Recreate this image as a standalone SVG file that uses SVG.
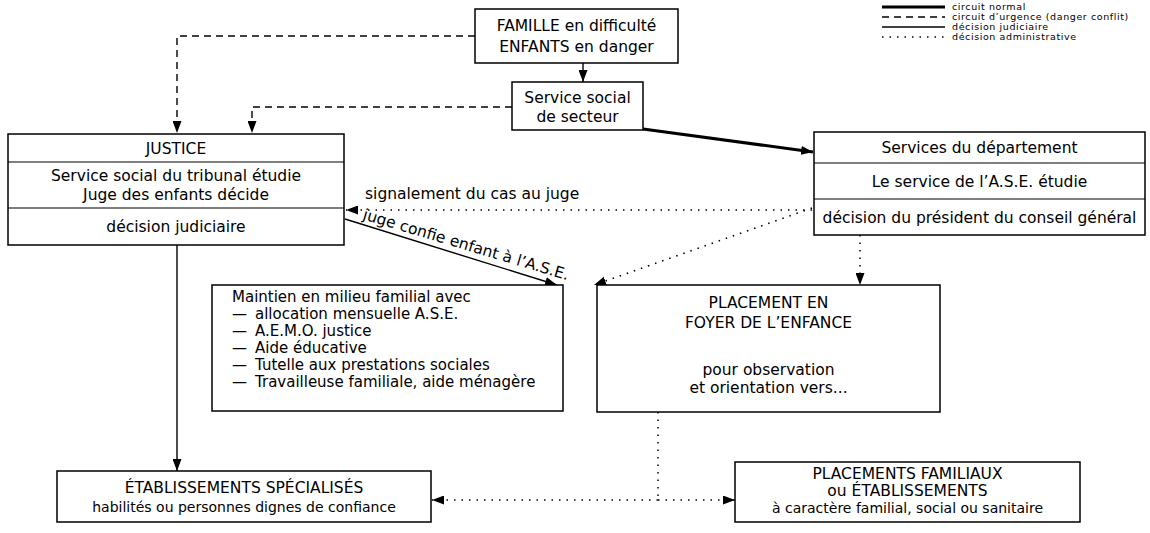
<svg xmlns="http://www.w3.org/2000/svg" width="1150" height="533" viewBox="0 0 1150 533">
<style>
  .box { fill: #fff; stroke: #000; stroke-width: 1.5; }
  .div { stroke: #000; stroke-width: 1.2; }
  text { font-family: "DejaVu Sans", "Liberation Sans", sans-serif; fill: #000; }
  .t { font-size: 15.5px; text-anchor: middle; }
  .s { font-size: 14px; text-anchor: middle; }
  .l { font-size: 15px; }
  .lab { font-size: 15.5px; }
  .leg { font-size: 9.5px; letter-spacing: 0.6px; }
  .normal { stroke: #000; stroke-width: 3; fill: none; }
  .urg { stroke: #000; stroke-width: 1.4; fill: none; stroke-dasharray: 7 5; }
  .jud { stroke: #000; stroke-width: 1.4; fill: none; }
  .adm { stroke: #000; stroke-width: 1.5; fill: none; stroke-dasharray: 1.5 6; }
</style>
<defs>
  <marker id="ah" viewBox="0 0 12 9" refX="12" refY="4.5" markerWidth="12" markerHeight="9" markerUnits="userSpaceOnUse" orient="auto">
    <path d="M0,0 L12,4.5 L0,9 z" fill="#000"/>
  </marker>
</defs>

<g id="legend">
  <line x1="882" y1="7" x2="945" y2="7" class="normal"/>
  <line x1="882" y1="17" x2="945" y2="17" class="urg"/>
  <line x1="882" y1="27" x2="945" y2="27" class="jud"/>
  <line x1="882" y1="37" x2="945" y2="37" class="adm"/>
  <text class="leg" x="952" y="10">circuit normal</text>
  <text class="leg" x="952" y="20">circuit d’urgence (danger conflit)</text>
  <text class="leg" x="952" y="30">décision judiciaire</text>
  <text class="leg" x="952" y="40">décision administrative</text>
</g>

<g id="connectors">
  <path class="urg" d="M475,36 H177 V133" marker-end="url(#ah)"/>
  <path class="urg" d="M512,107 H252 V133" marker-end="url(#ah)"/>
  <path class="jud" d="M583,63 V82" marker-end="url(#ah)"/>
  <path class="normal" d="M643,129 L813,152" marker-end="url(#ah)"/>
  <path class="adm" d="M812,210 H346" marker-end="url(#ah)"/>
  <path class="jud" d="M345,219 L557,285" marker-end="url(#ah)"/>
  <path class="adm" d="M812,208 L594,285" marker-end="url(#ah)"/>
  <path class="adm" d="M860,235 V285" marker-end="url(#ah)"/>
  <path class="jud" d="M177,245 V471" marker-end="url(#ah)"/>
  <path class="adm" d="M658,412 V500"/>
  <path class="adm" d="M658,500 H432" marker-end="url(#ah)"/>
  <path class="adm" d="M658,500 H735" marker-end="url(#ah)"/>
  <text class="lab" x="365" y="199">signalement du cas au juge</text>
  <text class="lab" x="0" y="0" transform="translate(362,219) rotate(16.6)">juge confie enfant à l’A.S.E.</text>
</g>

<g id="famille">
  <rect class="box" x="475" y="9" width="203" height="54"/>
  <text class="t" x="576.5" y="31">FAMILLE en difficulté</text>
  <text class="t" x="576.5" y="52">ENFANTS en danger</text>
</g>

<g id="service-social">
  <rect class="box" x="512" y="82" width="131" height="48"/>
  <text class="t" x="577.5" y="103">Service social</text>
  <text class="t" x="577.5" y="122">de secteur</text>
</g>

<g id="justice">
  <rect class="box" x="8" y="134" width="336" height="111"/>
  <line class="div" x1="8" y1="162" x2="344" y2="162"/>
  <line class="div" x1="8" y1="208" x2="344" y2="208"/>
  <text class="t" x="176" y="154">JUSTICE</text>
  <text class="t" x="176" y="181">Service social du tribunal étudie</text>
  <text class="t" x="176" y="200">Juge des enfants décide</text>
  <text class="t" x="176" y="232">décision judiciaire</text>
</g>

<g id="services-departement">
  <rect class="box" x="814" y="132" width="331" height="103"/>
  <line class="div" x1="814" y1="163" x2="1145" y2="163"/>
  <line class="div" x1="814" y1="199" x2="1145" y2="199"/>
  <text class="t" x="979.5" y="153">Services du département</text>
  <text class="t" x="979.5" y="187">Le service de l’A.S.E. étudie</text>
  <text class="t" x="979.5" y="223">décision du président du conseil général</text>
</g>

<g id="maintien">
  <rect class="box" x="212" y="285" width="351" height="126"/>
  <text class="l" x="232" y="302">Maintien en milieu familial avec</text>
  <text class="l" x="232" y="319">—</text><text class="l" x="255" y="319">allocation mensuelle A.S.E.</text>
  <text class="l" x="232" y="336">—</text><text class="l" x="255" y="336">A.E.M.O. justice</text>
  <text class="l" x="232" y="353">—</text><text class="l" x="255" y="353">Aide éducative</text>
  <text class="l" x="232" y="370">—</text><text class="l" x="255" y="370">Tutelle aux prestations sociales</text>
  <text class="l" x="232" y="387">—</text><text class="l" x="255" y="387">Travailleuse familiale, aide ménagère</text>
</g>

<g id="placement-foyer">
  <rect class="box" x="597" y="285" width="343" height="127"/>
  <text class="t" x="768.5" y="308">PLACEMENT EN</text>
  <text class="t" x="768.5" y="328">FOYER DE L’ENFANCE</text>
  <text class="t" x="768.5" y="375">pour observation</text>
  <text class="t" x="768.5" y="393">et orientation vers...</text>
</g>

<g id="etablissements">
  <rect class="box" x="57" y="471" width="374" height="51"/>
  <text class="t" x="244" y="493">ÉTABLISSEMENTS SPÉCIALISÉS</text>
  <text class="s" x="244" y="512">habilités ou personnes dignes de confiance</text>
</g>

<g id="placements-familiaux">
  <rect class="box" x="735" y="462" width="345" height="60"/>
  <text class="t" x="907.5" y="479">PLACEMENTS FAMILIAUX</text>
  <text class="t" x="907.5" y="496">ou ÉTABLISSEMENTS</text>
  <text class="s" x="907.5" y="513">à caractère familial, social ou sanitaire</text>
</g>
</svg>
